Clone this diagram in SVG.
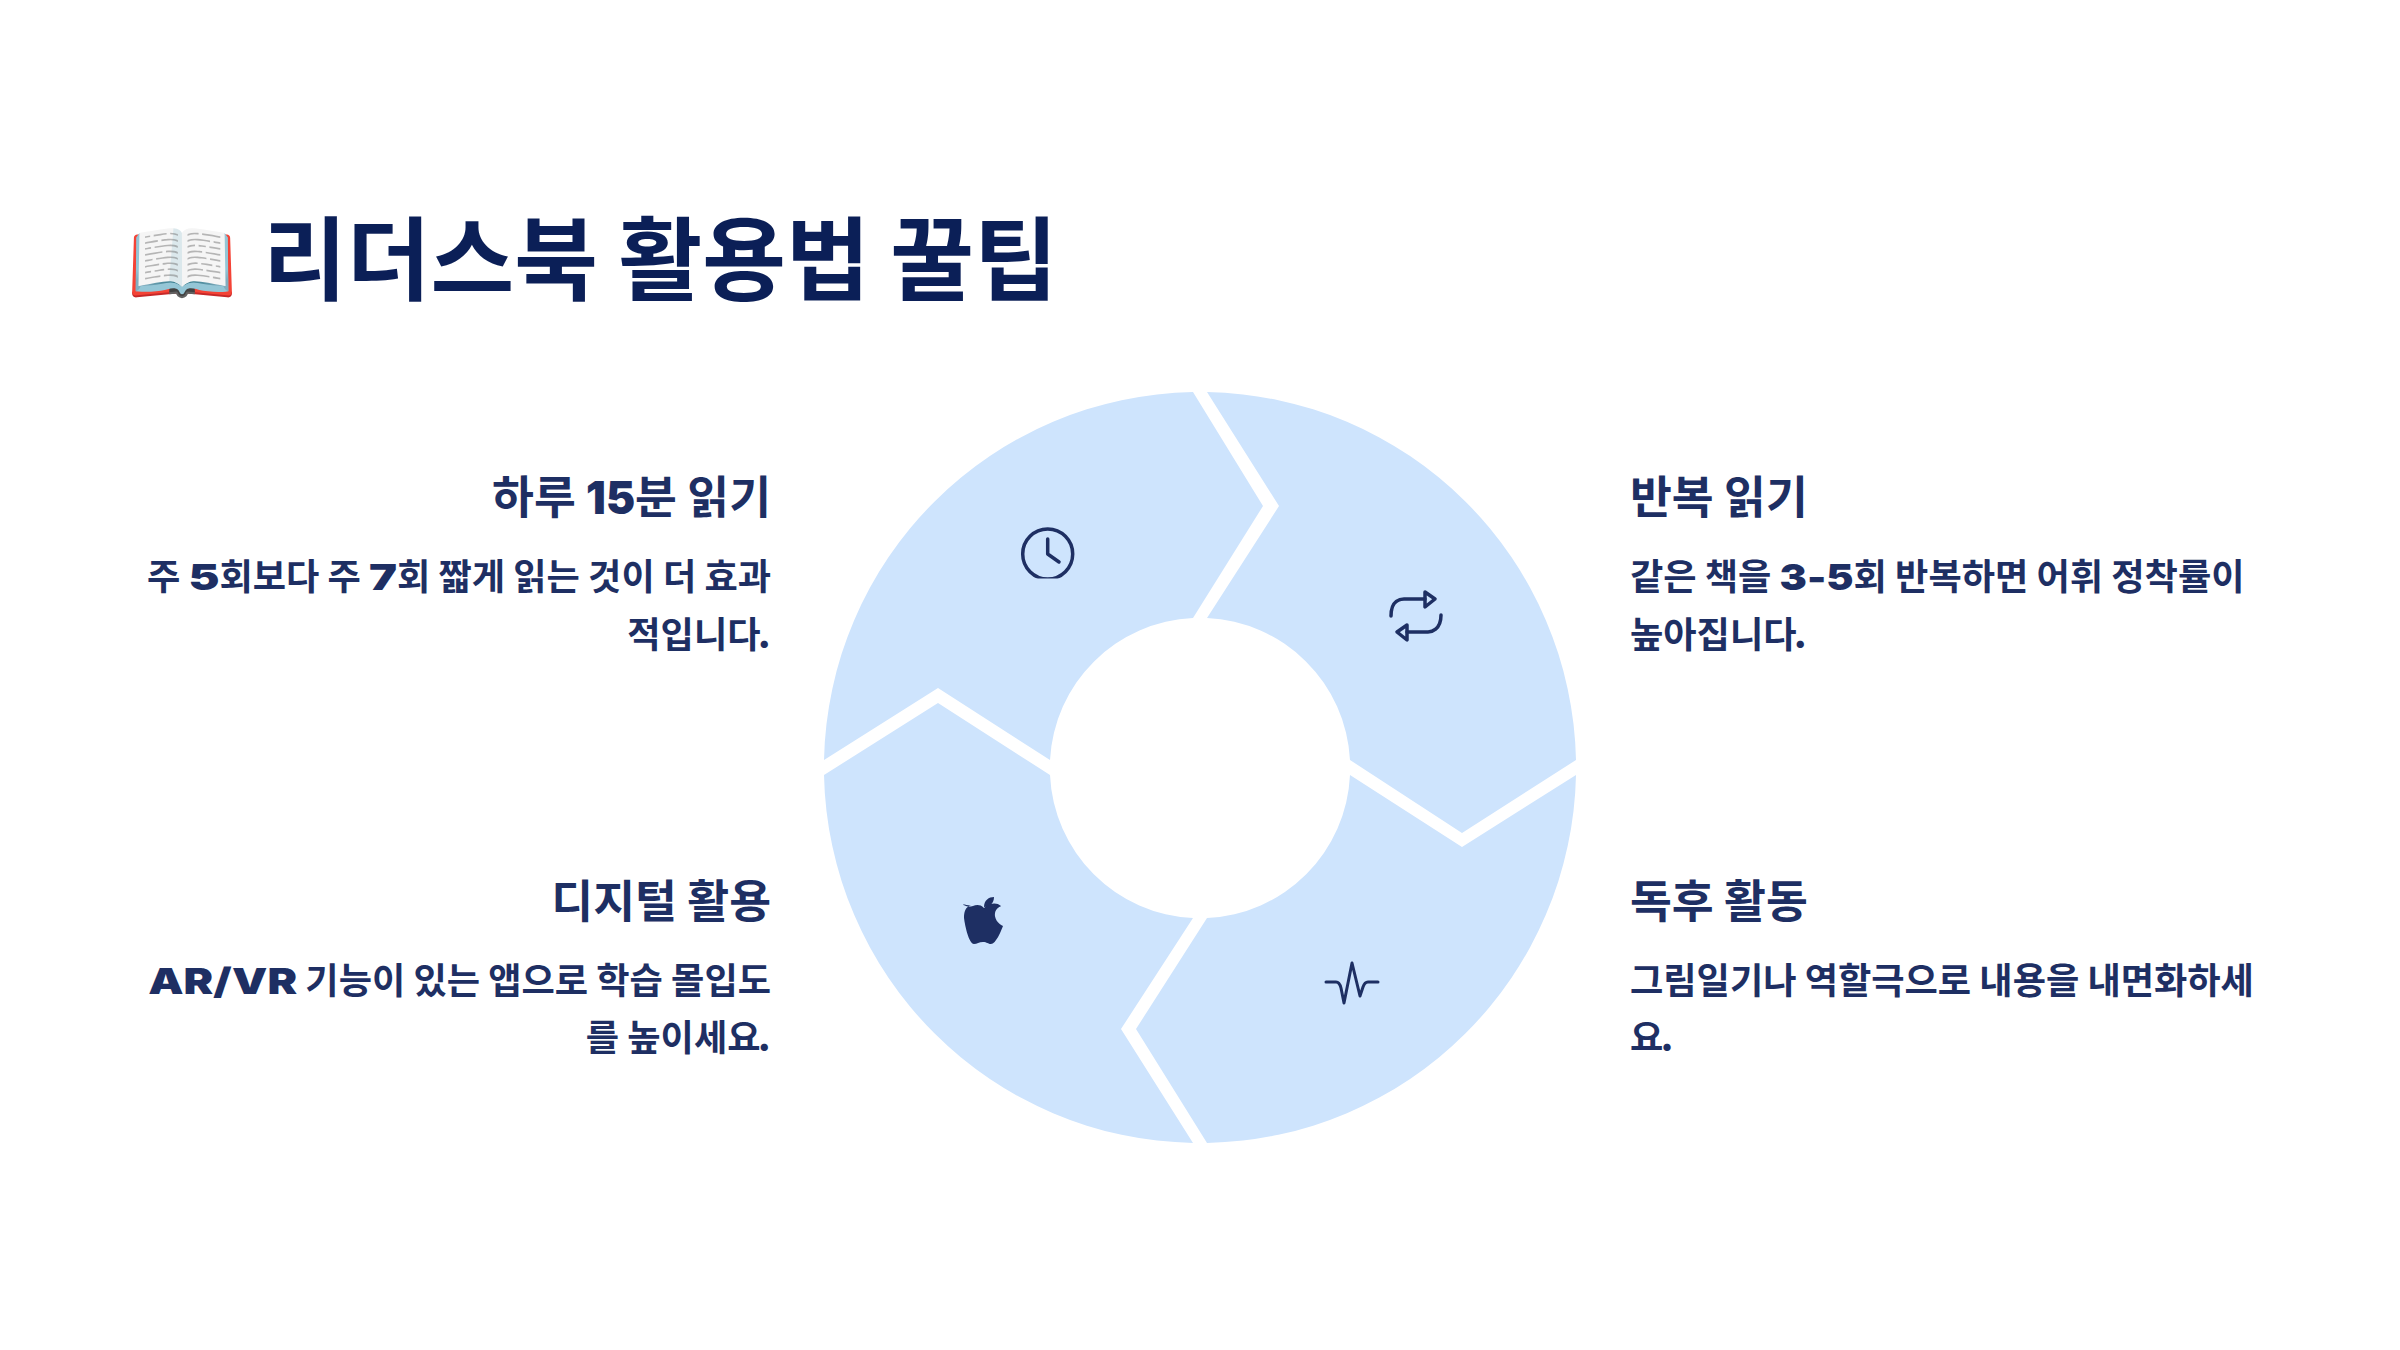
<svg xmlns="http://www.w3.org/2000/svg" width="2400" height="1350" viewBox="0 0 2400 1350">
<style>
text{font-family:"Noto Sans CJK KR","Noto Sans",sans-serif;fill:#1e2f63}
.title{font-size:91px;font-weight:700;fill:#0b1f57}
.h{font-size:45.5px;font-weight:700}
.b{font-size:36.2px;font-weight:700}
.l{font-family:Inter,"Noto Sans CJK KR",sans-serif;font-weight:900}
.e{text-anchor:end}
.seg{fill:#cee4fd}
.ic{fill:none;stroke:#1e2f63;stroke-width:3.5;stroke-linecap:round;stroke-linejoin:round}
</style>
<g id="title">
<text x="126" y="294" font-size="90" style="font-family:'Noto Color Emoji','Noto Sans CJK KR',sans-serif">📖</text>
<text class="title" x="263" y="293">리더스북 활용법 꿀팁</text>
</g>
<g id="cycle">
<path class="seg" d="M1193 392 L1263 506 L1193 618 A150 150 0 0 0 1050 760 L938 688 L824 760 A376 376 0 0 1 1193 392Z"/>
<path class="seg" d="M1207 392 L1279 506 L1207 618 A150 150 0 0 1 1350 760 L1462 833 L1576 760 A376 376 0 0 0 1207 392Z"/>
<path class="seg" d="M1207 1143 L1136 1029 L1207 918 A150 150 0 0 0 1350 775 L1462 847 L1576 775 A376 376 0 0 1 1207 1143Z"/>
<path class="seg" d="M1193 1143 L1121 1029 L1193 918 A150 150 0 0 1 1050 775 L938 703 L824 775 A376 376 0 0 0 1193 1143Z"/>
</g>
<g id="node-1">
<clipPath id="c"><rect x="1015" y="520" width="70" height="58.5"/></clipPath>
<circle class="ic" cx="1047.7" cy="554" r="25" clip-path="url(#c)"/>
<path class="ic" d="M1047.7 539V554L1059 562"/>
<text class="h e" x="771" y="514">하루 <tspan class="l" textLength="49" lengthAdjust="spacingAndGlyphs">15</tspan>분 읽기</text>
<text class="b e" x="771" y="590">주 <tspan class="l" textLength="31" lengthAdjust="spacingAndGlyphs">5</tspan>회보다 주 <tspan class="l" textLength="28" lengthAdjust="spacingAndGlyphs">7</tspan>회 짧게 읽는 것이 더 효과</text>
<text class="b e" x="771" y="648">적입니다<tspan class="l" dx="-3">.</tspan></text>
</g>
<g id="node-2">
<path class="ic" d="M1391 616C1391 600 1401 599 1404 599H1425M1441 615C1441 630 1431 632 1428 632H1407"/>
<path class="ic" d="M1425 592L1435 599L1425 607ZM1407 625L1397 632L1407 640Z"/>
<text class="h" x="1630" y="514">반복 읽기</text>
<text class="b" x="1630" y="590">같은 책을 <tspan class="l" textLength="74" lengthAdjust="spacingAndGlyphs">3-5</tspan>회 반복하면 어휘 정착률이</text>
<text class="b" x="1630" y="648">높아집니다<tspan class="l" dx="-3">.</tspan></text>
</g>
<g id="node-3">
<path class="ic" style="stroke-width:3" d="M1326 982H1336C1339 982 1340 984 1341 988L1344 1003L1352 963L1360 996L1363 987C1364 984 1365 982 1368 982H1378"/>
<text class="h" x="1630" y="918">독후 활동</text>
<text class="b" x="1630" y="994">그림일기나 역할극으로 내용을 내면화하세</text>
<text class="b" x="1630" y="1051">요<tspan class="l" dx="-3">.</tspan></text>
</g>
<g id="node-4">
<path fill="#1e2f63" d="M984 908C980 904 976 905 973 906C970 907 968 907 966 906C960 904 964 904 971 906C965 906 964 913 964 918C965 926 969 944 974 944C977 944 979 942 983 942C987 942 988 944 991 944C996 944 1001 931 1003 926C998 924 994 918 995 913C996 908 1000 907 1001 906C998 903 994 903 990 904C987 905 986 906 984 908Z"/>
<path fill="#1e2f63" d="M984 907C984 900 989 897 994 897C994 903 990 907 984 907Z"/>
<text class="h e" x="771" y="918">디지털 활용</text>
<text class="b e" x="771" y="994"><tspan class="l" textLength="149" lengthAdjust="spacingAndGlyphs">AR/VR</tspan> 기능이 있는 앱으로 학습 몰입도</text>
<text class="b e" x="771" y="1051">를 높이세요<tspan class="l" dx="-3">.</tspan></text>
</g>
</svg>
